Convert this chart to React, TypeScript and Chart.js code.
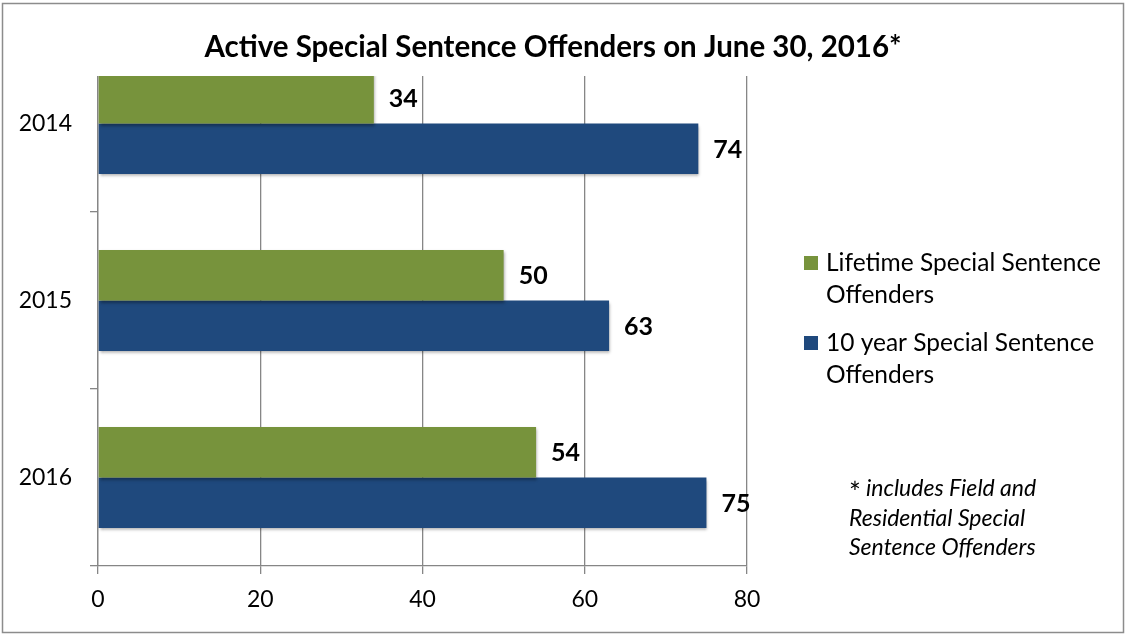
import { useEffect, useRef } from "react";
import { Chart, registerables } from "chart.js";

Chart.register(...registerables);

const categories = ["2014", "2015", "2016"];
const lifetimeValues = [34, 50, 54];
const tenYearValues = [74, 63, 75];
const xTicks = [0, 20, 40, 60, 80];
const seriesNames = [
  ["Lifetime Special Sentence", "Offenders"],
  ["10 year Special Sentence", "Offenders"],
];
const titleText = "Active Special Sentence Offenders on June 30, 2016*";
const footnoteLines = ["includes Field and", "Residential Special", "Sentence Offenders"];

const GREEN = "#77933C";
const BLUE = "#1F497D";
const GRID = "#868686";
const FONT = "Lato, 'Open Sans', sans-serif";

const overlayPlugin = {
  id: "overlay",
  beforeDatasetsDraw(chart: any) {
    const ctx = chart.ctx;
    ctx.save();
    ctx.shadowColor = "rgba(0,0,0,0.35)";
    ctx.shadowBlur = 3;
    ctx.shadowOffsetX = 1;
    ctx.shadowOffsetY = 2;
  },
  afterDatasetsDraw(chart: any) {
    const ctx = chart.ctx;
    ctx.restore();
    ctx.save();
    ctx.fillStyle = "#000";
    ctx.font = `bold 25px ${FONT}`;
    ctx.textAlign = "left";
    ctx.textBaseline = "middle";
    chart.data.datasets.forEach((ds: any, i: number) => {
      const meta = chart.getDatasetMeta(i);
      meta.data.forEach((el: any, j: number) => {
        ctx.fillText(String(ds.data[j]), el.x + 15, el.y + 1);
      });
    });
    ctx.restore();
  },
  afterDraw(chart: any) {
    const ctx = chart.ctx;
    const area = chart.chartArea;
    ctx.save();
    // white band hiding top of plot behind the title
    ctx.fillStyle = "#fff";
    ctx.fillRect(area.left - 20, 6, area.right - area.left + 30, 76 - 6);
    // title
    ctx.fillStyle = "#000";
    ctx.font = `bold 29.5px ${FONT}`;
    ctx.textAlign = "center";
    ctx.textBaseline = "middle";
    ctx.fillText(titleText, 553, 47);
    // legend
    const colors = [GREEN, BLUE];
    const legendTop = [263, 343];
    ctx.font = `24.5px ${FONT}`;
    ctx.textAlign = "left";
    seriesNames.forEach((lines, i) => {
      ctx.fillStyle = colors[i];
      ctx.fillRect(804, legendTop[i] - 7, 14, 14);
      ctx.fillStyle = "#000";
      lines.forEach((ln, k) => {
        ctx.fillText(ln, 826, legendTop[i] + k * 32);
      });
    });
    // footnote
    ctx.font = `28px ${FONT}`;
    ctx.fillText("*", 849, 494);
    ctx.font = `italic 23px ${FONT}`;
    ctx.fillText(footnoteLines[0], 866, 489);
    ctx.fillText(footnoteLines[1], 849, 519);
    ctx.fillText(footnoteLines[2], 849, 548);
    // outer border
    ctx.strokeStyle = "#8c8c8c";
    ctx.lineWidth = 1.5;
    ctx.strokeRect(2.5, 3.5, 1121, 629);
    ctx.restore();
  },
};

export default function App() {
  const ref = useRef<HTMLCanvasElement | null>(null);
  useEffect(() => {
    document.body.style.margin = "0";
    const chart = new Chart(ref.current!, {
      type: "bar",
      data: {
        labels: categories,
        datasets: [
          {
            label: seriesNames[0].join(" "),
            data: lifetimeValues,
            backgroundColor: GREEN,
            categoryPercentage: 0.57,
            barPercentage: 1.0,
          },
          {
            label: seriesNames[1].join(" "),
            data: tenYearValues,
            backgroundColor: BLUE,
            categoryPercentage: 0.57,
            barPercentage: 1.0,
          },
        ],
      },
      options: {
        indexAxis: "y",
        animation: false,
        responsive: false,
        maintainAspectRatio: false,
        layout: { padding: { left: 0, right: 380, top: 35, bottom: 0 } },
        plugins: {
          legend: { display: false },
          title: { display: false },
          tooltip: { enabled: false },
        },
        scales: {
          x: {
            min: 0,
            max: 80,
            afterBuildTicks: (scale: any) => {
              scale.ticks = xTicks.map((v) => ({ value: v }));
            },
            afterFit: (scale: any) => {
              scale.height = 69;
            },
            grid: {
              color: GRID,
              lineWidth: 1.3,
              tickLength: 8,
              drawTicks: true,
            },
            border: { color: GRID, width: 1.3 },
            ticks: {
              color: "#000",
              font: { family: FONT, size: 23 },
              padding: 12,
            },
          },
          y: {
            afterFit: (scale: any) => {
              scale.width = 98;
            },
            grid: {
              drawOnChartArea: false,
              offset: true,
              color: GRID,
              lineWidth: 1.3,
              tickLength: 8,
            },
            border: { color: GRID, width: 1.3 },
            ticks: {
              color: "#000",
              font: { family: FONT, size: 23 },
              padding: 18,
            },
          },
        },
      },
      plugins: [overlayPlugin],
    });
    return () => chart.destroy();
  }, []);
  return <canvas ref={ref} width={1127} height={635} style={{ display: "block" }} />;
}
